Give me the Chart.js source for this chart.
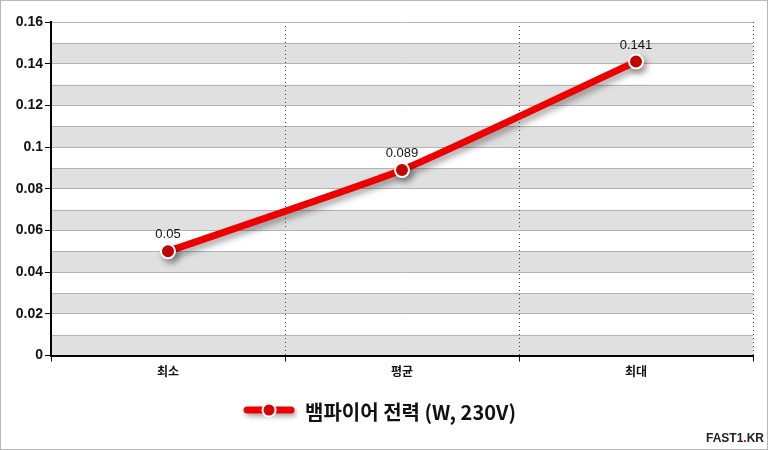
<!DOCTYPE html>
<html><head><meta charset="utf-8">
<script src="https://cdn.jsdelivr.net/npm/chart.js@4/dist/chart.umd.min.js"></script>
<style>html,body{margin:0;padding:0;background:#fff}#wrap{width:768px;height:450px;position:relative}</style>
</head><body><div id="wrap"><canvas id="c" width="768" height="450"></canvas></div>
<script>
const categories = ['최소', '평균', '최대'];
const seriesLabel = '뱀파이어 전력 (W, 230V)';
const powerValues = [0.05, 0.089, 0.141];
const yTicks = [0, 0.02, 0.04, 0.06, 0.08, 0.1, 0.12, 0.14, 0.16];

const FONT = "'Liberation Sans', Arial, sans-serif";
const KFONT = "'Noto Sans CJK KR', 'Liberation Sans', sans-serif";

// legend marker image
const mk = document.createElement('canvas');
mk.width = 56; mk.height = 24;
(function(){
  const g = mk.getContext('2d');
  g.save();
  g.shadowColor = 'rgba(0,0,0,0.35)'; g.shadowBlur = 5; g.shadowOffsetX = 2; g.shadowOffsetY = 3;
  g.strokeStyle = '#ee0000'; g.lineWidth = 7; g.lineCap = 'round';
  g.beginPath(); g.moveTo(5, 10); g.lineTo(49, 10); g.stroke();
  g.restore();
  g.beginPath(); g.arc(27, 10, 6.5, 0, Math.PI*2);
  g.fillStyle = '#d40000'; g.fill(); g.lineWidth = 2; g.strokeStyle = '#fff'; g.stroke();
})();

const bandPlugin = {
  id: 'bands',
  beforeDraw(chart) {
    const ctx = chart.ctx, y = chart.scales.y, a = chart.chartArea;
    ctx.save();
    ctx.fillStyle = '#fff'; ctx.fillRect(0,0,chart.width,chart.height);
    for (let i = 0; i < yTicks.length - 1; i++) {
      const lo = yTicks[i], mid = (yTicks[i] + yTicks[i+1]) / 2;
      const y1 = y.getPixelForValue(lo), y2 = y.getPixelForValue(mid);
      ctx.fillStyle = '#e0e0e0';
      ctx.fillRect(a.left, y2, a.right - a.left, y1 - y2);
      ctx.strokeStyle = '#b4b4b4'; ctx.lineWidth = 1;
      ctx.beginPath(); ctx.moveTo(a.left, Math.round(y2)+0.5); ctx.lineTo(a.right, Math.round(y2)+0.5); ctx.stroke();
    }
    ctx.restore();
  },
  afterDraw(chart) {
    const ctx = chart.ctx;
    ctx.save();
    ctx.strokeStyle = '#b8b8b8'; ctx.lineWidth = 1;
    ctx.strokeRect(0.5, 0.5, chart.width - 1, chart.height - 1);
    ctx.font = "bold 12px " + FONT;
    ctx.textBaseline = 'alphabetic';
    ctx.textAlign = 'left';
    const x0 = 706, yb = 442;
    const parts = [['FAST1', '#222'], ['.', '#e00000'], ['KR', '#222']];
    let x = x0;
    for (const [t, c] of parts) { ctx.fillStyle = c; ctx.fillText(t, x, yb); x += ctx.measureText(t).width; }
    ctx.restore();
  }
};

const shadowPlugin = {
  id: 'shadow',
  beforeDatasetsDraw(chart) {
    const ctx = chart.ctx; ctx.save();
    ctx.shadowColor = 'rgba(0,0,0,0.35)'; ctx.shadowBlur = 6; ctx.shadowOffsetX = 3; ctx.shadowOffsetY = 4;
  },
  afterDatasetsDraw(chart) {
    const ctx = chart.ctx; ctx.restore();
    const meta = chart.getDatasetMeta(0);
    ctx.save();
    ctx.font = "13px " + FONT; ctx.fillStyle = '#111'; ctx.textAlign = 'center'; ctx.textBaseline = 'bottom';
    meta.data.forEach((p, i) => ctx.fillText(String(powerValues[i]), p.x, p.y - 10));
    ctx.restore();
  }
};

new Chart(document.getElementById('c'), {
  type: 'line',
  data: { labels: categories, datasets: [{
    label: seriesLabel, data: powerValues,
    borderColor: '#ee0000', borderWidth: 7, tension: 0.15,
    pointRadius: 7, pointBackgroundColor: '#d40000', pointBorderColor: '#fff', pointBorderWidth: 2,
    pointHoverRadius: 7, pointStyle: 'circle'
  }]},
  options: {
    responsive: false, animation: false,
    layout: { padding: { left: 8, right: 15, top: 22, bottom: 18 } },
    plugins: {
      tooltip: { enabled: false },
      legend: { position: 'bottom', labels: {
        usePointStyle: true, pointStyle: mk, pointStyleWidth: 50, boxHeight: 20, padding: 20,
        font: { family: KFONT, size: 20, weight: '600' }, color: '#111',
        generateLabels: (chart) => [{ text: seriesLabel, pointStyle: mk, fillStyle: 'transparent', strokeStyle: 'transparent', lineWidth: 0, datasetIndex: 0, fontColor: '#111' }]
      } }
    },
    scales: {
      x: {
        offset: true,
        grid: { offset: true, color: '#444', lineWidth: 1, drawTicks: true, tickLength: 6, tickColor: '#111', tickBorderDash: [] },
        border: { color: '#000', width: 2, dash: [1, 3] },
        ticks: { color: '#111', font: { family: KFONT, size: 12, weight: 'bold' }, padding: 3 }
      },
      y: {
        min: 0, max: 0.16,
        afterFit: (s) => { s.width = 43; },
        afterBuildTicks: (s) => { s.ticks = yTicks.map(v => ({ value: v })); },
        grid: { color: '#b4b4b4', lineWidth: 1, tickLength: 6, tickColor: '#000' },
        border: { color: '#000', width: 2 },
        ticks: { color: '#111', font: { family: FONT, size: 14, weight: 'bold' }, padding: 2,
          callback: (v) => String(Math.round(v * 100) / 100) }
      }
    }
  },
  plugins: [bandPlugin, shadowPlugin]
});
</script></body></html>
